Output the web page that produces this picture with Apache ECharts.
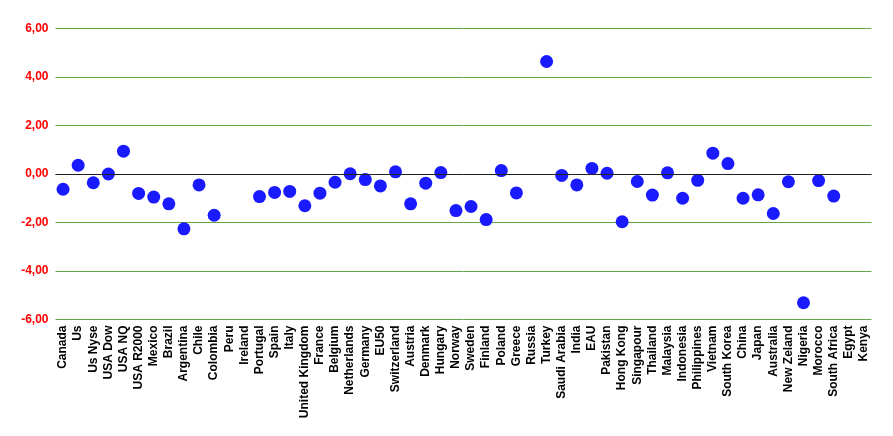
<!DOCTYPE html>
<html><head><meta charset="utf-8">
<script src="https://cdn.jsdelivr.net/npm/echarts@6/dist/echarts.min.js"></script>
<style>html,body{margin:0;padding:0;background:#fff}#c{width:893px;height:436px}</style>
</head><body><div id="c"></div>
<script>
const categories = ["Canada","Us","Us Nyse","USA Dow","USA NQ","USA R2000","Mexico","Brazil","Argentina","Chile","Colombia","Peru","Ireland","Portugal","Spain","Italy","United Kingdom","France","Belgium","Netherlands","Germany","EU50","Switzerland","Austria","Denmark","Hungary","Norway","Sweden","Finland","Poland","Greece","Russia","Turkey","Saudi Arabia","India","EAU","Pakistan","Hong Kong","Singapour","Thailand","Malaysia","Indonesia","Philippines","Vietnam","South Korea","China","Japan","Australia","New Zeland","Nigeria","Morocco","South Africa","Egypt","Kenya"];
const values = [-0.63,0.36,-0.36,0.00,0.94,-0.80,-0.95,-1.23,-2.26,-0.45,-1.70,null,null,-0.93,-0.76,-0.72,-1.31,-0.79,-0.34,0.01,-0.23,-0.49,0.09,-1.23,-0.38,0.06,-1.51,-1.34,-1.88,0.14,-0.78,null,4.64,-0.06,-0.45,0.23,0.03,-1.97,-0.31,-0.87,0.05,-1.00,-0.26,0.86,0.43,-1.00,-0.86,-1.63,-0.32,-5.31,-0.27,-0.91,null,null];
const yMin = -6, yMax = 6, yStep = 2;

const chart = echarts.init(document.getElementById('c'), null, {renderer:'canvas'});
chart.setOption({
  animation:false,
  backgroundColor:'#fff',
  grid:{left:55.5, right:21.5, top:28.5, bottom:116.5, containLabel:false},
  xAxis:{
    type:'category', data:categories, boundaryGap:true,
    axisLine:{show:false}, axisTick:{show:false},
    axisLabel:{interval:0, rotate:90, margin:6, color:'#000', fontWeight:'bold', fontSize:12, fontFamily:'Liberation Sans, Arial, sans-serif'},
    splitLine:{show:false}
  },
  yAxis:{
    type:'value', min:yMin, max:yMax, interval:yStep,
    axisLine:{show:false}, axisTick:{show:false},
    axisLabel:{margin:7, color:'#ff0000', fontWeight:'bold', fontSize:12, fontFamily:'Liberation Sans, Arial, sans-serif',
      formatter:v=>v.toFixed(2).replace('.',',')},
    splitLine:{show:true, lineStyle:{color:'#64a644', width:1}}
  },
  series:[{
    type:'scatter', data:values, symbol:'circle', symbolSize:13,
    itemStyle:{color:'#1a1aff', opacity:1},
    emphasis:{disabled:true},
    markLine:{silent:true, symbol:'none', label:{show:false},
      lineStyle:{color:'#222', width:1, type:'solid'}, data:[{yAxis:0}]}
  }]
});
</script></body></html>
